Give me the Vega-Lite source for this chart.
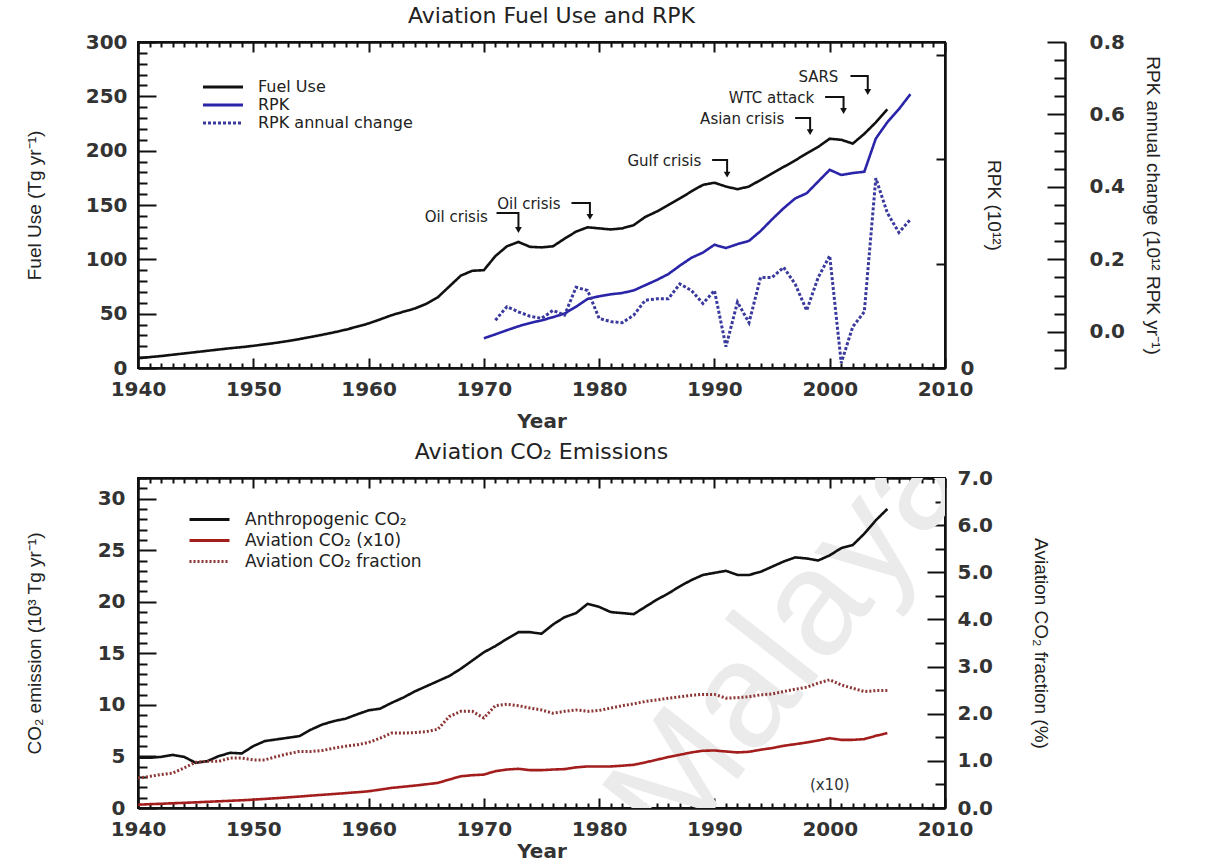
{
"$schema": "https://vega.github.io/schema/vega-lite/v6.json",
"padding": {"left": 24, "top": 4, "right": 5, "bottom": 2},
"background": "white",
"spacing": 8,
"config": {
  "view": {"stroke": "#111", "strokeWidth": 2},
  "axis": {"domainColor": "#111", "domainWidth": 2.5, "tickColor": "#111", "tickWidth": 2, "tickSize": 0, "grid": false, "labelFont": "DejaVu Sans", "labelFontSize": 20, "labelFontWeight": "bold", "labelColor": "#333", "titleFont": "Liberation Sans", "titleFontSize": 19, "titleFontWeight": "normal", "titleColor": "#222", "labelOverlap": false, "labelFlush": false, "labelBound": false},
  "title": {"font": "DejaVu Sans", "fontSize": 22, "fontWeight": "normal", "color": "#222", "frame": "group", "anchor": "middle", "offset": 4},
  "legend": {"orient": "none", "title": null, "symbolType": "M-4,0H4", "symbolStrokeWidth": 3, "symbolSize": 100, "labelFont": "DejaVu Sans", "labelFontSize": 16, "labelColor": "#222", "labelOffset": 27, "labelLimit": 400}
},
"datasets": {
  "top": [
    {"s":"Fuel Use","year":1940,"v":9},{"s":"Fuel Use","year":1941,"v":10},{"s":"Fuel Use","year":1942,"v":11},{"s":"Fuel Use","year":1943,"v":12.2},{"s":"Fuel Use","year":1944,"v":13.4},{"s":"Fuel Use","year":1945,"v":14.6},{"s":"Fuel Use","year":1946,"v":15.8},{"s":"Fuel Use","year":1947,"v":17},{"s":"Fuel Use","year":1948,"v":18.2},{"s":"Fuel Use","year":1949,"v":19.2},
    {"s":"Fuel Use","year":1950,"v":20.4},{"s":"Fuel Use","year":1951,"v":21.8},{"s":"Fuel Use","year":1952,"v":23.2},{"s":"Fuel Use","year":1953,"v":24.8},{"s":"Fuel Use","year":1954,"v":26.6},{"s":"Fuel Use","year":1955,"v":28.6},{"s":"Fuel Use","year":1956,"v":30.6},{"s":"Fuel Use","year":1957,"v":32.8},{"s":"Fuel Use","year":1958,"v":35.2},{"s":"Fuel Use","year":1959,"v":38},
    {"s":"Fuel Use","year":1960,"v":41},{"s":"Fuel Use","year":1961,"v":44.7},{"s":"Fuel Use","year":1962,"v":48.6},{"s":"Fuel Use","year":1963,"v":51.7},{"s":"Fuel Use","year":1964,"v":54.7},{"s":"Fuel Use","year":1965,"v":59},{"s":"Fuel Use","year":1966,"v":65},{"s":"Fuel Use","year":1967,"v":75},{"s":"Fuel Use","year":1968,"v":85},{"s":"Fuel Use","year":1969,"v":89.5},
    {"s":"Fuel Use","year":1970,"v":90},{"s":"Fuel Use","year":1971,"v":103},{"s":"Fuel Use","year":1972,"v":112},{"s":"Fuel Use","year":1973,"v":116},{"s":"Fuel Use","year":1974,"v":111.5},{"s":"Fuel Use","year":1975,"v":111},{"s":"Fuel Use","year":1976,"v":112},{"s":"Fuel Use","year":1977,"v":119},{"s":"Fuel Use","year":1978,"v":125.5},{"s":"Fuel Use","year":1979,"v":129.5},
    {"s":"Fuel Use","year":1980,"v":128.5},{"s":"Fuel Use","year":1981,"v":127.5},{"s":"Fuel Use","year":1982,"v":128.5},{"s":"Fuel Use","year":1983,"v":131.5},{"s":"Fuel Use","year":1984,"v":139},{"s":"Fuel Use","year":1985,"v":144},{"s":"Fuel Use","year":1986,"v":150},{"s":"Fuel Use","year":1987,"v":156},{"s":"Fuel Use","year":1988,"v":162.5},{"s":"Fuel Use","year":1989,"v":168.5},
    {"s":"Fuel Use","year":1990,"v":170.5},{"s":"Fuel Use","year":1991,"v":167},{"s":"Fuel Use","year":1992,"v":164.5},{"s":"Fuel Use","year":1993,"v":167},{"s":"Fuel Use","year":1994,"v":173},{"s":"Fuel Use","year":1995,"v":179},{"s":"Fuel Use","year":1996,"v":185},{"s":"Fuel Use","year":1997,"v":191},{"s":"Fuel Use","year":1998,"v":197.5},{"s":"Fuel Use","year":1999,"v":203.5},
    {"s":"Fuel Use","year":2000,"v":211},{"s":"Fuel Use","year":2001,"v":210},{"s":"Fuel Use","year":2002,"v":206.5},{"s":"Fuel Use","year":2003,"v":215.5},{"s":"Fuel Use","year":2004,"v":226},{"s":"Fuel Use","year":2005,"v":238},
    {"s":"RPK","year":1970,"v":0.456},{"s":"RPK","year":1971,"v":0.516},{"s":"RPK","year":1972,"v":0.58},{"s":"RPK","year":1973,"v":0.64},{"s":"RPK","year":1974,"v":0.69},{"s":"RPK","year":1975,"v":0.73},{"s":"RPK","year":1976,"v":0.78},{"s":"RPK","year":1977,"v":0.835},{"s":"RPK","year":1978,"v":0.94},{"s":"RPK","year":1979,"v":1.06},
    {"s":"RPK","year":1980,"v":1.1},{"s":"RPK","year":1981,"v":1.13},{"s":"RPK","year":1982,"v":1.15},{"s":"RPK","year":1983,"v":1.19},{"s":"RPK","year":1984,"v":1.27},{"s":"RPK","year":1985,"v":1.35},{"s":"RPK","year":1986,"v":1.44},{"s":"RPK","year":1987,"v":1.57},{"s":"RPK","year":1988,"v":1.69},{"s":"RPK","year":1989,"v":1.77},
    {"s":"RPK","year":1990,"v":1.89},{"s":"RPK","year":1991,"v":1.84},{"s":"RPK","year":1992,"v":1.9},{"s":"RPK","year":1993,"v":1.95},{"s":"RPK","year":1994,"v":2.1},{"s":"RPK","year":1995,"v":2.28},{"s":"RPK","year":1996,"v":2.45},{"s":"RPK","year":1997,"v":2.6},{"s":"RPK","year":1998,"v":2.68},{"s":"RPK","year":1999,"v":2.86},
    {"s":"RPK","year":2000,"v":3.04},{"s":"RPK","year":2001,"v":2.96},{"s":"RPK","year":2002,"v":2.99},{"s":"RPK","year":2003,"v":3.01},{"s":"RPK","year":2004,"v":3.52},{"s":"RPK","year":2005,"v":3.77},{"s":"RPK","year":2006,"v":3.97},{"s":"RPK","year":2007,"v":4.2},
    {"s":"RPK annual change","year":1971,"v":0.032},{"s":"RPK annual change","year":1972,"v":0.069},{"s":"RPK annual change","year":1973,"v":0.055},{"s":"RPK annual change","year":1974,"v":0.043},{"s":"RPK annual change","year":1975,"v":0.037},{"s":"RPK annual change","year":1976,"v":0.059},{"s":"RPK annual change","year":1977,"v":0.046},{"s":"RPK annual change","year":1978,"v":0.123},{"s":"RPK annual change","year":1979,"v":0.114},
    {"s":"RPK annual change","year":1980,"v":0.037},{"s":"RPK annual change","year":1981,"v":0.028},{"s":"RPK annual change","year":1982,"v":0.025},{"s":"RPK annual change","year":1983,"v":0.046},{"s":"RPK annual change","year":1984,"v":0.087},{"s":"RPK annual change","year":1985,"v":0.091},{"s":"RPK annual change","year":1986,"v":0.091},{"s":"RPK annual change","year":1987,"v":0.132},{"s":"RPK annual change","year":1988,"v":0.114},{"s":"RPK annual change","year":1989,"v":0.078},
    {"s":"RPK annual change","year":1990,"v":0.114},{"s":"RPK annual change","year":1991,"v":-0.041},{"s":"RPK annual change","year":1992,"v":0.082},{"s":"RPK annual change","year":1993,"v":0.025},{"s":"RPK annual change","year":1994,"v":0.15},{"s":"RPK annual change","year":1995,"v":0.15},{"s":"RPK annual change","year":1996,"v":0.178},{"s":"RPK annual change","year":1997,"v":0.132},{"s":"RPK annual change","year":1998,"v":0.059},{"s":"RPK annual change","year":1999,"v":0.15},
    {"s":"RPK annual change","year":2000,"v":0.21},{"s":"RPK annual change","year":2001,"v":-0.086},{"s":"RPK annual change","year":2002,"v":0.014},{"s":"RPK annual change","year":2003,"v":0.055},{"s":"RPK annual change","year":2004,"v":0.424},{"s":"RPK annual change","year":2005,"v":0.328},{"s":"RPK annual change","year":2006,"v":0.274},{"s":"RPK annual change","year":2007,"v":0.31}
  ],
  "ann": [
    {"t":"Oil crisis","year":1970.7,"v":139},
    {"t":"Oil crisis","year":1977.0,"v":151},
    {"t":"Gulf crisis","year":1989.2,"v":190.5},
    {"t":"Asian crisis","year":1996.4,"v":229},
    {"t":"WTC attack","year":1999.0,"v":248.5},
    {"t":"SARS","year":2001.1,"v":268}
  ],
  "arr": [
    {"a":1,"o":1,"year":1971.1,"v":142.6},{"a":1,"o":2,"year":1973.0,"v":142.6},{"a":1,"o":3,"year":1973.0,"v":129},
    {"a":2,"o":1,"year":1977.6,"v":151.8},{"a":2,"o":2,"year":1979.2,"v":151.8},{"a":2,"o":3,"year":1979.2,"v":141},
    {"a":3,"o":1,"year":1989.8,"v":191.4},{"a":3,"o":2,"year":1991.1,"v":191.4},{"a":3,"o":3,"year":1991.1,"v":180},
    {"a":4,"o":1,"year":1997.0,"v":230},{"a":4,"o":2,"year":1998.3,"v":230},{"a":4,"o":3,"year":1998.3,"v":219},
    {"a":5,"o":1,"year":1999.6,"v":249.4},{"a":5,"o":2,"year":2001.2,"v":249.4},{"a":5,"o":3,"year":2001.2,"v":238.5},
    {"a":6,"o":1,"year":2001.8,"v":268.7},{"a":6,"o":2,"year":2003.3,"v":268.7},{"a":6,"o":3,"year":2003.3,"v":256}
  ],
  "tips": [
    {"year":1973.0,"v":127},{"year":1979.2,"v":139},{"year":1991.1,"v":178},{"year":1998.3,"v":217},{"year":2001.2,"v":236.5},{"year":2003.3,"v":254}
  ],
  "bottom": [
    {"s":"Anthropogenic CO₂","year":1940,"v":4.87},{"s":"Anthropogenic CO₂","year":1941,"v":4.87},{"s":"Anthropogenic CO₂","year":1942,"v":4.96},{"s":"Anthropogenic CO₂","year":1943,"v":5.15},{"s":"Anthropogenic CO₂","year":1944,"v":4.96},{"s":"Anthropogenic CO₂","year":1945,"v":4.38},{"s":"Anthropogenic CO₂","year":1946,"v":4.54},{"s":"Anthropogenic CO₂","year":1947,"v":5.03},{"s":"Anthropogenic CO₂","year":1948,"v":5.35},{"s":"Anthropogenic CO₂","year":1949,"v":5.29},
    {"s":"Anthropogenic CO₂","year":1950,"v":6.0},{"s":"Anthropogenic CO₂","year":1951,"v":6.49},{"s":"Anthropogenic CO₂","year":1952,"v":6.65},{"s":"Anthropogenic CO₂","year":1953,"v":6.81},{"s":"Anthropogenic CO₂","year":1954,"v":6.97},{"s":"Anthropogenic CO₂","year":1955,"v":7.6},{"s":"Anthropogenic CO₂","year":1956,"v":8.1},{"s":"Anthropogenic CO₂","year":1957,"v":8.43},{"s":"Anthropogenic CO₂","year":1958,"v":8.66},{"s":"Anthropogenic CO₂","year":1959,"v":9.08},
    {"s":"Anthropogenic CO₂","year":1960,"v":9.47},{"s":"Anthropogenic CO₂","year":1961,"v":9.63},{"s":"Anthropogenic CO₂","year":1962,"v":10.2},{"s":"Anthropogenic CO₂","year":1963,"v":10.7},{"s":"Anthropogenic CO₂","year":1964,"v":11.3},{"s":"Anthropogenic CO₂","year":1965,"v":11.8},{"s":"Anthropogenic CO₂","year":1966,"v":12.3},{"s":"Anthropogenic CO₂","year":1967,"v":12.8},{"s":"Anthropogenic CO₂","year":1968,"v":13.5},{"s":"Anthropogenic CO₂","year":1969,"v":14.3},
    {"s":"Anthropogenic CO₂","year":1970,"v":15.1},{"s":"Anthropogenic CO₂","year":1971,"v":15.7},{"s":"Anthropogenic CO₂","year":1972,"v":16.4},{"s":"Anthropogenic CO₂","year":1973,"v":17.05},{"s":"Anthropogenic CO₂","year":1974,"v":17.05},{"s":"Anthropogenic CO₂","year":1975,"v":16.9},{"s":"Anthropogenic CO₂","year":1976,"v":17.8},{"s":"Anthropogenic CO₂","year":1977,"v":18.5},{"s":"Anthropogenic CO₂","year":1978,"v":18.9},{"s":"Anthropogenic CO₂","year":1979,"v":19.8},
    {"s":"Anthropogenic CO₂","year":1980,"v":19.5},{"s":"Anthropogenic CO₂","year":1981,"v":19.0},{"s":"Anthropogenic CO₂","year":1982,"v":18.9},{"s":"Anthropogenic CO₂","year":1983,"v":18.8},{"s":"Anthropogenic CO₂","year":1984,"v":19.5},{"s":"Anthropogenic CO₂","year":1985,"v":20.2},{"s":"Anthropogenic CO₂","year":1986,"v":20.8},{"s":"Anthropogenic CO₂","year":1987,"v":21.5},{"s":"Anthropogenic CO₂","year":1988,"v":22.1},{"s":"Anthropogenic CO₂","year":1989,"v":22.6},
    {"s":"Anthropogenic CO₂","year":1990,"v":22.8},{"s":"Anthropogenic CO₂","year":1991,"v":23.0},{"s":"Anthropogenic CO₂","year":1992,"v":22.6},{"s":"Anthropogenic CO₂","year":1993,"v":22.6},{"s":"Anthropogenic CO₂","year":1994,"v":22.9},{"s":"Anthropogenic CO₂","year":1995,"v":23.4},{"s":"Anthropogenic CO₂","year":1996,"v":23.9},{"s":"Anthropogenic CO₂","year":1997,"v":24.3},{"s":"Anthropogenic CO₂","year":1998,"v":24.2},{"s":"Anthropogenic CO₂","year":1999,"v":24.0},
    {"s":"Anthropogenic CO₂","year":2000,"v":24.5},{"s":"Anthropogenic CO₂","year":2001,"v":25.2},{"s":"Anthropogenic CO₂","year":2002,"v":25.5},{"s":"Anthropogenic CO₂","year":2003,"v":26.6},{"s":"Anthropogenic CO₂","year":2004,"v":27.9},{"s":"Anthropogenic CO₂","year":2005,"v":29.0},
    {"s":"Aviation CO₂ (x10)","year":1940,"v":0.32},{"s":"Aviation CO₂ (x10)","year":1941,"v":0.37},{"s":"Aviation CO₂ (x10)","year":1942,"v":0.41},{"s":"Aviation CO₂ (x10)","year":1943,"v":0.46},{"s":"Aviation CO₂ (x10)","year":1944,"v":0.5},{"s":"Aviation CO₂ (x10)","year":1945,"v":0.55},{"s":"Aviation CO₂ (x10)","year":1946,"v":0.6},{"s":"Aviation CO₂ (x10)","year":1947,"v":0.65},{"s":"Aviation CO₂ (x10)","year":1948,"v":0.7},{"s":"Aviation CO₂ (x10)","year":1949,"v":0.75},
    {"s":"Aviation CO₂ (x10)","year":1950,"v":0.81},{"s":"Aviation CO₂ (x10)","year":1951,"v":0.88},{"s":"Aviation CO₂ (x10)","year":1952,"v":0.95},{"s":"Aviation CO₂ (x10)","year":1953,"v":1.03},{"s":"Aviation CO₂ (x10)","year":1954,"v":1.11},{"s":"Aviation CO₂ (x10)","year":1955,"v":1.2},{"s":"Aviation CO₂ (x10)","year":1956,"v":1.28},{"s":"Aviation CO₂ (x10)","year":1957,"v":1.36},{"s":"Aviation CO₂ (x10)","year":1958,"v":1.44},{"s":"Aviation CO₂ (x10)","year":1959,"v":1.53},
    {"s":"Aviation CO₂ (x10)","year":1960,"v":1.62},{"s":"Aviation CO₂ (x10)","year":1961,"v":1.78},{"s":"Aviation CO₂ (x10)","year":1962,"v":1.95},{"s":"Aviation CO₂ (x10)","year":1963,"v":2.06},{"s":"Aviation CO₂ (x10)","year":1964,"v":2.17},{"s":"Aviation CO₂ (x10)","year":1965,"v":2.3},{"s":"Aviation CO₂ (x10)","year":1966,"v":2.43},{"s":"Aviation CO₂ (x10)","year":1967,"v":2.76},{"s":"Aviation CO₂ (x10)","year":1968,"v":3.08},{"s":"Aviation CO₂ (x10)","year":1969,"v":3.18},
    {"s":"Aviation CO₂ (x10)","year":1970,"v":3.24},{"s":"Aviation CO₂ (x10)","year":1971,"v":3.57},{"s":"Aviation CO₂ (x10)","year":1972,"v":3.73},{"s":"Aviation CO₂ (x10)","year":1973,"v":3.8},{"s":"Aviation CO₂ (x10)","year":1974,"v":3.67},{"s":"Aviation CO₂ (x10)","year":1975,"v":3.67},{"s":"Aviation CO₂ (x10)","year":1976,"v":3.73},{"s":"Aviation CO₂ (x10)","year":1977,"v":3.77},{"s":"Aviation CO₂ (x10)","year":1978,"v":3.94},{"s":"Aviation CO₂ (x10)","year":1979,"v":4.03},
    {"s":"Aviation CO₂ (x10)","year":1980,"v":4.03},{"s":"Aviation CO₂ (x10)","year":1981,"v":4.03},{"s":"Aviation CO₂ (x10)","year":1982,"v":4.1},{"s":"Aviation CO₂ (x10)","year":1983,"v":4.19},{"s":"Aviation CO₂ (x10)","year":1984,"v":4.42},{"s":"Aviation CO₂ (x10)","year":1985,"v":4.68},{"s":"Aviation CO₂ (x10)","year":1986,"v":4.94},{"s":"Aviation CO₂ (x10)","year":1987,"v":5.16},{"s":"Aviation CO₂ (x10)","year":1988,"v":5.39},{"s":"Aviation CO₂ (x10)","year":1989,"v":5.55},
    {"s":"Aviation CO₂ (x10)","year":1990,"v":5.58},{"s":"Aviation CO₂ (x10)","year":1991,"v":5.48},{"s":"Aviation CO₂ (x10)","year":1992,"v":5.39},{"s":"Aviation CO₂ (x10)","year":1993,"v":5.45},{"s":"Aviation CO₂ (x10)","year":1994,"v":5.65},{"s":"Aviation CO₂ (x10)","year":1995,"v":5.81},{"s":"Aviation CO₂ (x10)","year":1996,"v":6.03},{"s":"Aviation CO₂ (x10)","year":1997,"v":6.19},{"s":"Aviation CO₂ (x10)","year":1998,"v":6.35},{"s":"Aviation CO₂ (x10)","year":1999,"v":6.55},
    {"s":"Aviation CO₂ (x10)","year":2000,"v":6.77},{"s":"Aviation CO₂ (x10)","year":2001,"v":6.61},{"s":"Aviation CO₂ (x10)","year":2002,"v":6.61},{"s":"Aviation CO₂ (x10)","year":2003,"v":6.68},{"s":"Aviation CO₂ (x10)","year":2004,"v":7.0},{"s":"Aviation CO₂ (x10)","year":2005,"v":7.26},
    {"s":"Aviation CO₂ fraction","year":1940,"v":0.635},{"s":"Aviation CO₂ fraction","year":1941,"v":0.67},{"s":"Aviation CO₂ fraction","year":1942,"v":0.71},{"s":"Aviation CO₂ fraction","year":1943,"v":0.74},{"s":"Aviation CO₂ fraction","year":1944,"v":0.85},{"s":"Aviation CO₂ fraction","year":1945,"v":0.97},{"s":"Aviation CO₂ fraction","year":1946,"v":0.99},{"s":"Aviation CO₂ fraction","year":1947,"v":0.99},{"s":"Aviation CO₂ fraction","year":1948,"v":1.06},{"s":"Aviation CO₂ fraction","year":1949,"v":1.06},
    {"s":"Aviation CO₂ fraction","year":1950,"v":1.02},{"s":"Aviation CO₂ fraction","year":1951,"v":1.02},{"s":"Aviation CO₂ fraction","year":1952,"v":1.09},{"s":"Aviation CO₂ fraction","year":1953,"v":1.15},{"s":"Aviation CO₂ fraction","year":1954,"v":1.2},{"s":"Aviation CO₂ fraction","year":1955,"v":1.2},{"s":"Aviation CO₂ fraction","year":1956,"v":1.22},{"s":"Aviation CO₂ fraction","year":1957,"v":1.27},{"s":"Aviation CO₂ fraction","year":1958,"v":1.31},{"s":"Aviation CO₂ fraction","year":1959,"v":1.34},
    {"s":"Aviation CO₂ fraction","year":1960,"v":1.39},{"s":"Aviation CO₂ fraction","year":1961,"v":1.48},{"s":"Aviation CO₂ fraction","year":1962,"v":1.59},{"s":"Aviation CO₂ fraction","year":1963,"v":1.59},{"s":"Aviation CO₂ fraction","year":1964,"v":1.6},{"s":"Aviation CO₂ fraction","year":1965,"v":1.62},{"s":"Aviation CO₂ fraction","year":1966,"v":1.67},{"s":"Aviation CO₂ fraction","year":1967,"v":1.94},{"s":"Aviation CO₂ fraction","year":1968,"v":2.05},{"s":"Aviation CO₂ fraction","year":1969,"v":2.05},
    {"s":"Aviation CO₂ fraction","year":1970,"v":1.91},{"s":"Aviation CO₂ fraction","year":1971,"v":2.17},{"s":"Aviation CO₂ fraction","year":1972,"v":2.2},{"s":"Aviation CO₂ fraction","year":1973,"v":2.17},{"s":"Aviation CO₂ fraction","year":1974,"v":2.12},{"s":"Aviation CO₂ fraction","year":1975,"v":2.08},{"s":"Aviation CO₂ fraction","year":1976,"v":2.01},{"s":"Aviation CO₂ fraction","year":1977,"v":2.05},{"s":"Aviation CO₂ fraction","year":1978,"v":2.08},{"s":"Aviation CO₂ fraction","year":1979,"v":2.05},
    {"s":"Aviation CO₂ fraction","year":1980,"v":2.07},{"s":"Aviation CO₂ fraction","year":1981,"v":2.12},{"s":"Aviation CO₂ fraction","year":1982,"v":2.17},{"s":"Aviation CO₂ fraction","year":1983,"v":2.21},{"s":"Aviation CO₂ fraction","year":1984,"v":2.26},{"s":"Aviation CO₂ fraction","year":1985,"v":2.29},{"s":"Aviation CO₂ fraction","year":1986,"v":2.33},{"s":"Aviation CO₂ fraction","year":1987,"v":2.36},{"s":"Aviation CO₂ fraction","year":1988,"v":2.39},{"s":"Aviation CO₂ fraction","year":1989,"v":2.41},
    {"s":"Aviation CO₂ fraction","year":1990,"v":2.41},{"s":"Aviation CO₂ fraction","year":1991,"v":2.33},{"s":"Aviation CO₂ fraction","year":1992,"v":2.34},{"s":"Aviation CO₂ fraction","year":1993,"v":2.36},{"s":"Aviation CO₂ fraction","year":1994,"v":2.4},{"s":"Aviation CO₂ fraction","year":1995,"v":2.42},{"s":"Aviation CO₂ fraction","year":1996,"v":2.47},{"s":"Aviation CO₂ fraction","year":1997,"v":2.52},{"s":"Aviation CO₂ fraction","year":1998,"v":2.56},{"s":"Aviation CO₂ fraction","year":1999,"v":2.65},
    {"s":"Aviation CO₂ fraction","year":2000,"v":2.72},{"s":"Aviation CO₂ fraction","year":2001,"v":2.61},{"s":"Aviation CO₂ fraction","year":2002,"v":2.54},{"s":"Aviation CO₂ fraction","year":2003,"v":2.47},{"s":"Aviation CO₂ fraction","year":2004,"v":2.49},{"s":"Aviation CO₂ fraction","year":2005,"v":2.49}
  ],
  "notes": [
    {"t":"(x10)","year":2000.0,"v":2.2}
  ],
  "mark": [
    {"t":"Malaya","year":1996.5,"v":16.3}
  ]
},
"resolve": {"scale": {"color": "independent", "strokeDash": "independent"}},
"vconcat": [
  {
    "width": 807, "height": 326,
    "title": {"text": "Aviation Fuel Use and RPK", "dx": 10},
    "resolve": {"scale": {"y": "independent"}, "axis": {"x": "independent", "y": "independent"}},
    "layer": [
      {
        "encoding": {
          "x": {"field": "year", "type": "quantitative", "scale": {"domain": [1940, 2010], "nice": false, "zero": false},
            "axis": {"orient": "bottom", "title": "Year", "values": [1940,1941,1942,1943,1944,1945,1946,1947,1948,1949,1950,1951,1952,1953,1954,1955,1956,1957,1958,1959,1960,1961,1962,1963,1964,1965,1966,1967,1968,1969,1970,1971,1972,1973,1974,1975,1976,1977,1978,1979,1980,1981,1982,1983,1984,1985,1986,1987,1988,1989,1990,1991,1992,1993,1994,1995,1996,1997,1998,1999,2000,2001,2002,2003,2004,2005,2006,2007,2008,2009,2010],
              "format": "d", "labelExpr": "datum.value % 10 === 0 ? datum.label : ''",
              "encoding": {"ticks": {"y2": {"condition": {"test": "datum.value % 10 === 0", "value": -10}, "value": -5}}},
              "labelPadding": 11, "titleFont": "DejaVu Sans", "titleFontSize": 20, "titleFontWeight": "bold", "titleColor": "#333", "titlePadding": 12}},
          "y": {"field": "v", "type": "quantitative", "scale": {"domain": [0, 300], "nice": false, "zero": false},
            "axis": {"orient": "left", "title": "Fuel Use (Tg yr⁻¹)", "values": [0,10,20,30,40,50,60,70,80,90,100,110,120,130,140,150,160,170,180,190,200,210,220,230,240,250,260,270,280,290,300],
              "labelExpr": "datum.value % 50 === 0 ? datum.label : ''",
              "encoding": {"ticks": {"x2": {"condition": {"test": "datum.value % 50 === 0", "value": 18}, "value": 9}}},
              "labelPadding": 11, "minExtent": 80, "maxExtent": 80, "titlePadding": 14}}
        },
        "layer": [
          {"data": {"name": "top"}, "transform": [{"filter": "datum.s === 'Fuel Use'"}],
           "mark": {"type": "line", "strokeWidth": 2.6},
           "encoding": {
             "color": {"field": "s", "type": "nominal", "scale": {"domain": ["Fuel Use", "RPK", "RPK annual change"], "range": ["#111111", "#2a25a8", "#3a3a9e"]}, "legend": {"legendX": 77, "legendY": 37, "rowPadding": 2}},
             "strokeDash": {"field": "s", "type": "nominal", "scale": {"domain": ["Fuel Use", "RPK", "RPK annual change"], "range": [[1, 0], [1, 0], [3, 2]]}, "legend": {"legendX": 77, "legendY": 37, "rowPadding": 2}}
           }},
          {"data": {"name": "arr"}, "mark": {"type": "line", "color": "#111", "strokeWidth": 2},
           "encoding": {"detail": {"field": "a", "type": "nominal"}, "order": {"field": "o", "type": "quantitative"}}},
          {"data": {"name": "tips"}, "mark": {"type": "point", "shape": "triangle-down", "filled": true, "color": "#111", "size": 45, "opacity": 1}},
          {"data": {"name": "ann"}, "mark": {"type": "text", "align": "right", "baseline": "middle", "font": "DejaVu Sans", "fontSize": 15, "color": "#222", "dx": -4},
           "encoding": {"text": {"field": "t"}}}
        ]
      },
      {
        "data": {"name": "top"}, "transform": [{"filter": "datum.s === 'RPK'"}],
        "mark": {"type": "line", "strokeWidth": 2.6},
        "encoding": {
          "x": {"field": "year", "type": "quantitative", "scale": {"domain": [1940, 2010], "nice": false, "zero": false},
            "axis": {"orient": "top", "title": null, "labels": false, "values": [1940,1941,1942,1943,1944,1945,1946,1947,1948,1949,1950,1951,1952,1953,1954,1955,1956,1957,1958,1959,1960,1961,1962,1963,1964,1965,1966,1967,1968,1969,1970,1971,1972,1973,1974,1975,1976,1977,1978,1979,1980,1981,1982,1983,1984,1985,1986,1987,1988,1989,1990,1991,1992,1993,1994,1995,1996,1997,1998,1999,2000,2001,2002,2003,2004,2005,2006,2007,2008,2009,2010],
              "encoding": {"ticks": {"y2": {"condition": {"test": "datum.value % 10 === 0", "value": 10}, "value": 5}}}}},
          "y": {"field": "v", "type": "quantitative", "scale": {"domain": [0, 5], "nice": false, "zero": false},
            "axis": {"orient": "right", "title": "RPK (10¹²)", "values": [0,0.2,0.4,0.6,0.8,1,1.2,1.4,1.6,1.8,2,2.2,2.4,2.6,2.8,3,3.2,3.4,3.6,3.8,4,4.2,4.4,4.6,4.8,5],
              "format": "d", "labelExpr": "round(datum.value*5) % 5 === 0 ? datum.label : ''",
              "encoding": {"ticks": {"x2": {"condition": {"test": "round(datum.value*5) % 5 === 0", "value": -18}, "value": -9}}},
              "labelPadding": 15, "minExtent": 30, "maxExtent": 30, "titlePadding": 8}},
          "color": {"field": "s", "type": "nominal", "scale": {"domain": ["Fuel Use", "RPK", "RPK annual change"], "range": ["#111111", "#2a25a8", "#3a3a9e"]}, "legend": {"legendX": 77, "legendY": 37, "rowPadding": 2}},
          "strokeDash": {"field": "s", "type": "nominal", "scale": {"domain": ["Fuel Use", "RPK", "RPK annual change"], "range": [[1, 0], [1, 0], [3, 2]]}, "legend": {"legendX": 77, "legendY": 37, "rowPadding": 2}}
        }
      },
      {
        "data": {"name": "top"}, "transform": [{"filter": "datum.s === 'RPK annual change'"}],
        "mark": {"type": "line", "strokeWidth": 3},
        "encoding": {
          "x": {"field": "year", "type": "quantitative", "scale": {"domain": [1940, 2010], "nice": false, "zero": false}, "axis": null},
          "y": {"field": "v", "type": "quantitative", "scale": {"domain": [-0.1, 0.8], "nice": false, "zero": false},
            "axis": {"orient": "right", "offset": 120, "title": "RPK annual change (10¹² RPK yr⁻¹)", "values": [-0.1,-0.05,0,0.05,0.1,0.15,0.2,0.25,0.3,0.35,0.4,0.45,0.5,0.55,0.6,0.65,0.7,0.75,0.8],
              "format": ".1f", "labelExpr": "round(datum.value*20) % 4 === 0 ? datum.label : ''",
              "encoding": {"ticks": {"x2": {"condition": {"test": "round(datum.value*20) % 4 === 0", "value": -18}, "value": -11}}},
              "labelPadding": 24, "minExtent": 55, "maxExtent": 55, "titlePadding": 22}},
          "color": {"field": "s", "type": "nominal", "scale": {"domain": ["Fuel Use", "RPK", "RPK annual change"], "range": ["#111111", "#2a25a8", "#3a3a9e"]}, "legend": {"legendX": 77, "legendY": 37, "rowPadding": 2}},
          "strokeDash": {"field": "s", "type": "nominal", "scale": {"domain": ["Fuel Use", "RPK", "RPK annual change"], "range": [[1, 0], [1, 0], [3, 2]]}, "legend": {"legendX": 77, "legendY": 37, "rowPadding": 2}}
        }
      }
    ]
  },
  {
    "width": 807, "height": 330,
    "title": {"text": "Aviation CO₂ Emissions"},
    "resolve": {"scale": {"y": "independent"}, "axis": {"x": "independent", "y": "independent"}},
    "layer": [
      {
        "encoding": {
          "x": {"field": "year", "type": "quantitative", "scale": {"domain": [1940, 2010], "nice": false, "zero": false},
            "axis": {"orient": "bottom", "title": "Year", "values": [1940,1941,1942,1943,1944,1945,1946,1947,1948,1949,1950,1951,1952,1953,1954,1955,1956,1957,1958,1959,1960,1961,1962,1963,1964,1965,1966,1967,1968,1969,1970,1971,1972,1973,1974,1975,1976,1977,1978,1979,1980,1981,1982,1983,1984,1985,1986,1987,1988,1989,1990,1991,1992,1993,1994,1995,1996,1997,1998,1999,2000,2001,2002,2003,2004,2005,2006,2007,2008,2009,2010],
              "format": "d", "labelExpr": "datum.value % 10 === 0 ? datum.label : ''",
              "encoding": {"ticks": {"y2": {"condition": {"test": "datum.value % 10 === 0", "value": -10}, "value": -5}}},
              "labelPadding": 11, "titleFont": "DejaVu Sans", "titleFontSize": 20, "titleFontWeight": "bold", "titleColor": "#333", "titlePadding": 2}},
          "y": {"field": "v", "type": "quantitative", "scale": {"domain": [0, 32], "nice": false, "zero": false},
            "axis": {"orient": "left", "title": "CO₂ emission (10³ Tg yr⁻¹)", "values": [0,1,2,3,4,5,6,7,8,9,10,11,12,13,14,15,16,17,18,19,20,21,22,23,24,25,26,27,28,29,30,31,32],
              "labelExpr": "datum.value % 5 === 0 ? datum.label : ''",
              "encoding": {"ticks": {"x2": {"condition": {"test": "datum.value % 5 === 0", "value": 18}, "value": 9}}},
              "labelPadding": 13, "minExtent": 80, "maxExtent": 80, "titlePadding": 14}}
        },
        "layer": [
          {"data": {"name": "mark"}, "mark": {"type": "text", "angle": -52, "font": "Liberation Sans", "fontSize": 150, "color": "#ebebeb", "align": "center", "baseline": "middle", "clip": true},
           "encoding": {"text": {"field": "t"}}},
          {"data": {"name": "bottom"}, "transform": [{"filter": "datum.s !== 'Aviation CO₂ fraction'"}],
           "mark": {"type": "line", "strokeWidth": 2.6},
           "encoding": {
             "detail": {"field": "s", "type": "nominal"},
             "color": {"field": "s", "type": "nominal", "scale": {"domain": ["Anthropogenic CO₂", "Aviation CO₂ (x10)", "Aviation CO₂ fraction"], "range": ["#111111", "#a31d1d", "#8c3535"]}, "legend": {"legendX": 63, "legendY": 33, "labelFontSize": 17, "rowPadding": 3}},
             "strokeDash": {"field": "s", "type": "nominal", "scale": {"domain": ["Anthropogenic CO₂", "Aviation CO₂ (x10)", "Aviation CO₂ fraction"], "range": [[1, 0], [1, 0], [2, 2]]}, "legend": {"legendX": 63, "legendY": 33, "labelFontSize": 17, "rowPadding": 3}}
           }},
          {"data": {"name": "notes"}, "mark": {"type": "text", "font": "DejaVu Sans", "fontSize": 15, "color": "#333", "align": "center", "baseline": "middle"},
           "encoding": {"text": {"field": "t"}}}
        ]
      },
      {
        "data": {"name": "bottom"}, "transform": [{"filter": "datum.s === 'Aviation CO₂ fraction'"}],
        "mark": {"type": "line", "strokeWidth": 3},
        "encoding": {
          "x": {"field": "year", "type": "quantitative", "scale": {"domain": [1940, 2010], "nice": false, "zero": false},
            "axis": {"orient": "top", "title": null, "labels": false, "values": [1940,1941,1942,1943,1944,1945,1946,1947,1948,1949,1950,1951,1952,1953,1954,1955,1956,1957,1958,1959,1960,1961,1962,1963,1964,1965,1966,1967,1968,1969,1970,1971,1972,1973,1974,1975,1976,1977,1978,1979,1980,1981,1982,1983,1984,1985,1986,1987,1988,1989,1990,1991,1992,1993,1994,1995,1996,1997,1998,1999,2000,2001,2002,2003,2004,2005,2006,2007,2008,2009,2010],
              "encoding": {"ticks": {"y2": {"condition": {"test": "datum.value % 10 === 0", "value": 10}, "value": 5}}}}},
          "y": {"field": "v", "type": "quantitative", "scale": {"domain": [0, 7], "nice": false, "zero": false},
            "axis": {"orient": "right", "title": "Aviation CO₂ fraction (%)", "values": [0,0.5,1,1.5,2,2.5,3,3.5,4,4.5,5,5.5,6,6.5,7],
              "format": ".1f", "labelExpr": "datum.value % 1 === 0 ? datum.label : ''",
              "encoding": {"ticks": {"x2": {"condition": {"test": "datum.value % 1 === 0", "value": -18}, "value": -10}}},
              "labelPadding": 12, "minExtent": 60, "maxExtent": 60, "titlePadding": 25}},
          "color": {"field": "s", "type": "nominal", "scale": {"domain": ["Anthropogenic CO₂", "Aviation CO₂ (x10)", "Aviation CO₂ fraction"], "range": ["#111111", "#a31d1d", "#8c3535"]}, "legend": {"legendX": 63, "legendY": 33, "labelFontSize": 17, "rowPadding": 3}},
          "strokeDash": {"field": "s", "type": "nominal", "scale": {"domain": ["Anthropogenic CO₂", "Aviation CO₂ (x10)", "Aviation CO₂ fraction"], "range": [[1, 0], [1, 0], [2, 2]]}, "legend": {"legendX": 63, "legendY": 33, "labelFontSize": 17, "rowPadding": 3}}
        }
      }
    ]
  }
]
}
